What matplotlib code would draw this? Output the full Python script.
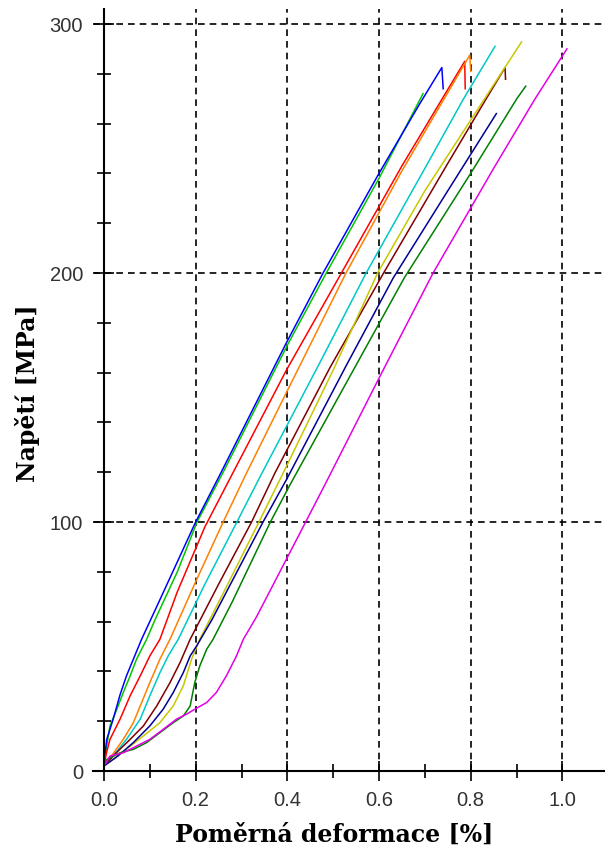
import matplotlib
matplotlib.use("Agg")
import matplotlib.pyplot as plt
from matplotlib.ticker import MultipleLocator

# Curves (strain in %, stress in MPa)
blue_x = [0, 0.003, 0.006, 0.02, 0.035, 0.049, 0.064, 0.082, 0.12, 0.2, 0.253, 0.398, 0.478, 0.6, 0.689, 0.737, 0.74]
blue_y = [2, 8, 12.7, 20.8, 30.6, 38.2, 44.9, 52.9, 68, 100, 119, 172, 200, 240, 268, 282.5, 274]

green_x = [0, 0.005, 0.013, 0.028, 0.042, 0.057, 0.071, 0.093, 0.111, 0.16, 0.203, 0.26, 0.40, 0.485, 0.6, 0.696]
green_y = [2, 9, 18.1, 24.8, 31.5, 38.2, 44.9, 52.9, 60.6, 80, 100, 120, 171, 200, 238, 272]

red_x = [0, 0.005, 0.013, 0.035, 0.057, 0.079, 0.1, 0.122, 0.16, 0.22, 0.282, 0.398, 0.518, 0.65, 0.787, 0.788]
red_y = [2, 7, 12.7, 20.8, 30.2, 38.2, 46.2, 52.9, 72, 98, 120, 161, 200, 243, 285, 274]

orange_x = [0, 0.02, 0.042, 0.064, 0.079, 0.1, 0.122, 0.144, 0.2, 0.26, 0.311, 0.398, 0.528, 0.65, 0.798, 0.8]
orange_y = [2, 7, 12.7, 19.4, 26.1, 35.5, 44.9, 52.9, 76, 100, 119.7, 152, 200, 241, 287.5, 281]

cyan_x = [0, 0.02, 0.049, 0.079, 0.1, 0.122, 0.14, 0.162, 0.22, 0.29, 0.34, 0.471, 0.572, 0.7, 0.784, 0.853]
cyan_y = [2, 6, 12.7, 20.8, 30.2, 39.5, 46.2, 52.9, 75, 100, 118, 164, 200, 242, 269.8, 291]

brown_x = [0, 0.025, 0.057, 0.086, 0.115, 0.144, 0.166, 0.188, 0.25, 0.322, 0.373, 0.493, 0.61, 0.75, 0.834, 0.875, 0.876]
brown_y = [2, 7, 12.7, 18.1, 26.1, 35.5, 43.6, 52.9, 75, 100, 119.7, 162, 200, 244, 270, 282.5, 277.8]

yellow_x = [0, 0.03, 0.086, 0.122, 0.151, 0.173, 0.191, 0.209, 0.27, 0.338, 0.391, 0.50, 0.597, 0.7, 0.834, 0.911]
yellow_y = [2, 6, 14.1, 19.4, 26.1, 34.2, 44.9, 52.9, 75, 100, 119.7, 161, 200, 233, 271, 292.8]

navy_x = [0, 0.03, 0.064, 0.1, 0.129, 0.151, 0.173, 0.188, 0.202, 0.235, 0.347, 0.398, 0.529, 0.631, 0.75, 0.856]
navy_y = [2, 6, 11.4, 18.1, 24.8, 31.5, 39.5, 46.2, 50.2, 60.6, 100, 117, 163, 198, 233, 264]

dgreen_x = [0, 0.006, 0.035, 0.064, 0.093, 0.122, 0.151, 0.173, 0.188, 0.198, 0.209, 0.224, 0.238, 0.28, 0.363, 0.406, 0.544, 0.655, 0.8, 0.9, 0.92]
dgreen_y = [2, 4.6, 7.3, 8.7, 11.4, 15.4, 19.4, 22.1, 26.1, 35.5, 42.2, 48.9, 52.9, 68, 100, 115, 161, 198, 240, 269.8, 275]

magenta_x = [0, 0.013, 0.042, 0.071, 0.1, 0.129, 0.158, 0.18, 0.198, 0.224, 0.245, 0.267, 0.289, 0.304, 0.333, 0.44, 0.489, 0.602, 0.718, 0.85, 0.94, 1.01]
magenta_y = [2, 6, 7.3, 10, 12.7, 16.7, 20.8, 22.8, 24.8, 27.5, 31.5, 38.2, 46.2, 52.9, 62, 100, 117.5, 158.5, 200, 242, 269.8, 290]

curves = [
    (green_x, green_y, "#00c800"),
    (blue_x, blue_y, "#0000ff"),
    (red_x, red_y, "#ff0000"),
    (orange_x, orange_y, "#ff8000"),
    (cyan_x, cyan_y, "#00c8c8"),
    (brown_x, brown_y, "#800000"),
    (yellow_x, yellow_y, "#c8c800"),
    (navy_x, navy_y, "#000096"),
    (dgreen_x, dgreen_y, "#008000"),
    (magenta_x, magenta_y, "#e600e6"),
]

fig = plt.figure(figsize=(6.05, 8.53), dpi=100)
ax = fig.add_axes([93 / 605, 1 - 772 / 853, 512 / 605, 762 / 853])

for xs, ys, col in curves:
    ax.plot(xs, ys, color=col, lw=1.1)

ax.set_xlim(-0.024, 1.093)
ax.set_ylim(0, 306)

for s in ["top", "right"]:
    ax.spines[s].set_visible(False)
ax.spines["left"].set_position(("data", 0))
ax.spines["left"].set_linewidth(1.5)
ax.spines["bottom"].set_linewidth(1.5)

ax.xaxis.set_major_locator(MultipleLocator(0.2))
ax.xaxis.set_minor_locator(MultipleLocator(0.1))
ax.yaxis.set_major_locator(MultipleLocator(100))
ax.yaxis.set_minor_locator(MultipleLocator(20))
ax.set_xticks([0, 0.2, 0.4, 0.6, 0.8, 1.0])
ax.set_xticklabels(["0.0", "0.2", "0.4", "0.6", "0.8", "1.0"])

ax.tick_params(which="major", direction="inout", length=14, width=1.2,
               labelsize=14.5, labelcolor="#333333")
ax.tick_params(which="minor", direction="inout", length=10, width=1.2)
ax.tick_params(axis="x", which="major", pad=7)
ax.tick_params(axis="y", which="major", pad=8)
for lab in ax.get_xticklabels() + ax.get_yticklabels():
    lab.set_family("Liberation Sans")

ax.grid(True, which="major", color="black", lw=1.2, linestyle=(0, (4, 3)))
ax.set_axisbelow(True)

ax.set_xlabel("Poměrná deformace [%]", family="DejaVu Serif", fontweight="bold",
              fontsize=17, va="center")
ax.xaxis.set_label_coords((334 - 93) / 512, -(835 - 772) / 762)
ax.set_ylabel("Napětí [MPa]", family="DejaVu Serif", fontweight="bold",
              fontsize=17, va="center")
ax.yaxis.set_label_coords((28 - 93) / 512, (772 - 393) / 762)

plt.savefig("out.png", dpi=100)
